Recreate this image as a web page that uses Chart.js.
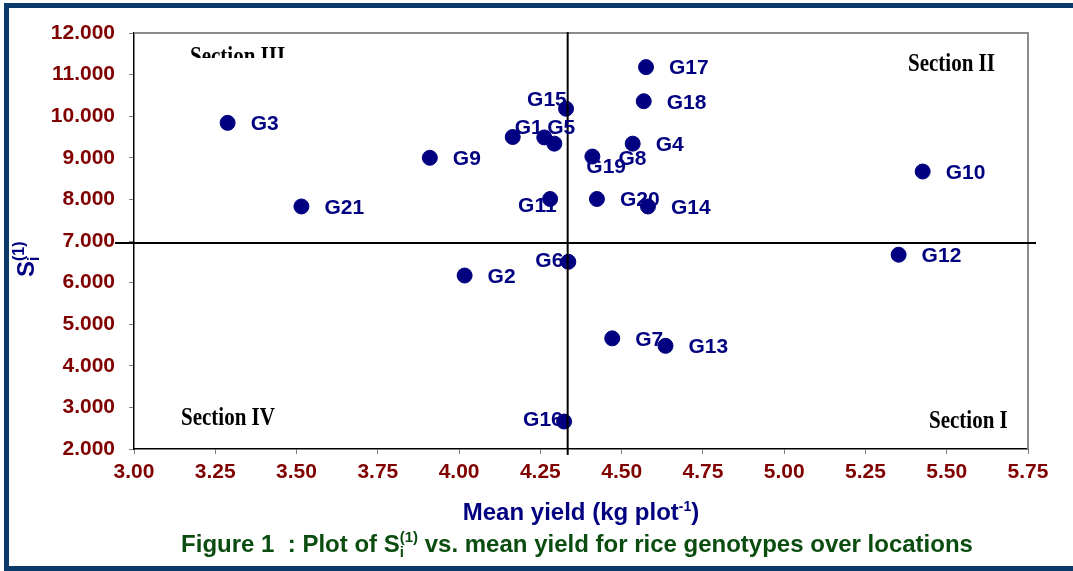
<!DOCTYPE html>
<html>
<head>
<meta charset="utf-8">
<script src="https://cdn.jsdelivr.net/npm/chart.js@4/dist/chart.umd.min.js"></script>
<style>
  body { margin: 0; background: #fff; }
  #wrap { position: relative; width: 1073px; height: 571px; overflow: hidden; }
  #grafico { position: absolute; left: 0; top: 0; }
  #moldura {
    position: absolute; left: 4px; top: 3px; width: 1100px; height: 568px;
    box-sizing: border-box; border: 5px solid #0a3a6a; border-right: none;
    pointer-events: none;
  }
</style>
</head>
<body>
<div id="wrap">
  <canvas id="grafico" width="1073" height="571"></canvas>
  <div id="moldura"></div>
</div>
<script>
// genotypes and their values
const genotypes = ['G1', 'G2', 'G3', 'G4', 'G5', 'G6', 'G7', 'G8', 'G9', 'G10', 'G11',
                   'G12', 'G13', 'G14', 'G15', 'G16', 'G17', 'G18', 'G19', 'G20', 'G21'];
const meanYield = [4.165, 4.017, 3.288, 4.534, 4.262, 4.336, 4.471, 4.410, 3.910, 5.426, 4.280,
                   5.352, 4.635, 4.581, 4.329, 4.323, 4.575, 4.568, 4.293, 4.424, 3.515];
const si1 = [9.50, 6.17, 9.84, 9.34, 9.49, 6.50, 4.66, 9.03, 9.00, 8.67, 8.01,
             6.67, 4.48, 7.83, 10.18, 2.66, 11.18, 10.36, 9.34, 8.01, 7.83];

// overall means (the two dividing lines)
const grandMeanYield = 4.334;
const grandMeanSi = 6.95;

const sections = ['Section I', 'Section II', 'Section III', 'Section IV'];

// label nudges (px) for the crowded labels, everything else sits to the right
const deslocDefault = [23, 1.5];
const deslocRotulo = {
    G15: [-39, -9], G1: [2, -9], G5: [3, -9], G19: [32, 24],
    G11: [-32, 7], G6: [-33, -1], G16: [-41, -1], G8: [26, 3]
};

const AZUL = '#000080';
const VERMELHO = '#800000';
const VERDE = '#0a4d0f';
const sans = '"Liberation Sans", Arial, sans-serif';
const fonte = (px) => 'bold ' + px + 'px ' + sans;

// draw text with sub/superscripts, parts = {t, size, dy} or {sub, sup, size}
function textoRico(ctx, partes, x, y, align) {
    const larg = p => {
        ctx.font = fonte(p.size);
        if (p.sub !== undefined) {
            return Math.max(ctx.measureText(p.sub).width, ctx.measureText(p.sup).width);
        }
        return ctx.measureText(p.t).width;
    };
    const total = partes.reduce((s, p) => s + larg(p), 0);
    let cx = align === 'center' ? x - total / 2 : x;
    ctx.textAlign = 'left';
    ctx.textBaseline = 'alphabetic';
    partes.forEach(p => {
        const w = larg(p);
        ctx.font = fonte(p.size);
        if (p.sub !== undefined) {
            ctx.fillText(p.sub, cx, y + p.subDy);
            ctx.fillText(p.sup, cx, y + p.supDy);
        } else {
            ctx.fillText(p.t, cx, y + (p.dy || 0));
        }
        cx += w;
    });
}

const pluginQuadrantes = {
    id: 'quadrantes',
    afterDatasetsDraw(chart) {
        const { ctx, chartArea: a, scales: { x, y } } = chart;
        ctx.save();

        // top and right edge of the plot area
        ctx.strokeStyle = '#8c8c8c';
        ctx.lineWidth = 2;
        ctx.beginPath();
        ctx.moveTo(a.left, a.top);
        ctx.lineTo(a.right, a.top);
        ctx.lineTo(a.right, a.bottom);
        ctx.stroke();

        // dividing lines at the means
        ctx.strokeStyle = '#000';
        ctx.lineWidth = 2;
        const yy = y.getPixelForValue(grandMeanSi);
        ctx.beginPath();
        ctx.moveTo(a.left - 19, yy);
        ctx.lineTo(a.right + 8, yy);
        ctx.stroke();
        const xx = x.getPixelForValue(grandMeanYield);
        ctx.beginPath();
        ctx.moveTo(xx, a.top - 1);
        ctx.lineTo(xx, a.bottom + 6);
        ctx.stroke();

        // genotype labels
        const meta = chart.getDatasetMeta(0);
        ctx.fillStyle = AZUL;
        ctx.font = fonte(21);
        ctx.textAlign = 'left';
        ctx.textBaseline = 'middle';
        meta.data.forEach((pt, i) => {
            const d = deslocRotulo[genotypes[i]] || deslocDefault;
            ctx.fillText(genotypes[i], pt.x + d[0], pt.y + d[1]);
        });

        // section names
        ctx.fillStyle = '#000';
        ctx.font = 'bold 25px "Liberation Serif", "Times New Roman", serif';
        ctx.textAlign = 'left';
        ctx.textBaseline = 'alphabetic';
        const escreve = (txt, px, py) => {
            ctx.save();
            ctx.translate(px, py);
            ctx.scale(0.84, 1);
            ctx.fillText(txt, 0, 0);
            ctx.restore();
        };
        escreve(sections[1], 908, 71);
        escreve(sections[3], 181, 425);
        escreve(sections[0], 929, 428);
        ctx.save();
        ctx.beginPath();
        ctx.rect(0, 0, chart.width, 58);
        ctx.clip();
        escreve(sections[2], 190, 64);
        ctx.restore();

        // axis titles
        ctx.fillStyle = AZUL;
        textoRico(ctx, [
            { t: 'Mean yield (kg plot', size: 24 },
            { t: '-1', size: 14, dy: -9 },
            { t: ')', size: 24 }
        ], (a.left + a.right) / 2, 520, 'center');

        ctx.save();
        ctx.translate(34, 277);
        ctx.rotate(-Math.PI / 2);
        textoRico(ctx, [
            { t: 'S', size: 24 },
            { sub: 'i', sup: '(1)', size: 16, subDy: 5, supDy: -10 }
        ], 0, 0, 'left');
        ctx.restore();

        // caption
        ctx.fillStyle = VERDE;
        textoRico(ctx, [
            { t: 'Figure 1  : Plot of S', size: 24 },
            { sub: 'i', sup: '(1)', size: 15, subDy: 5, supDy: -10 },
            { t: ' vs. mean yield for rice genotypes over locations', size: 24 }
        ], 577, 552, 'center');

        ctx.restore();
    }
};

const pontos = genotypes.map((g, i) => ({ x: meanYield[i], y: si1[i] }));

new Chart(document.getElementById('grafico'), {
    type: 'scatter',
    data: {
        datasets: [{
            label: 'Genotypes',
            data: pontos,
            backgroundColor: AZUL,
            borderColor: AZUL,
            pointRadius: 7.5,
            pointHoverRadius: 7.5
        }]
    },
    options: {
        responsive: false,
        animation: false,
        layout: { padding: { top: 33, right: 45, left: 0, bottom: 0 } },
        plugins: { legend: { display: false }, tooltip: { enabled: false } },
        scales: {
            x: {
                type: 'linear',
                min: 3,
                max: 5.75,
                afterFit: (s) => { s.height = 122; },
                ticks: {
                    stepSize: 0.25,
                    callback: (v) => v.toFixed(2),
                    color: VERMELHO,
                    font: { family: sans, size: 21, weight: 'bold' },
                    padding: 6,
                    maxRotation: 0
                },
                grid: { drawOnChartArea: false, tickLength: 5, color: '#808080' },
                border: { color: '#000', width: 1.5 }
            },
            y: {
                type: 'linear',
                min: 2,
                max: 12,
                afterFit: (s) => { s.width = 134; },
                ticks: {
                    stepSize: 1,
                    callback: (v) => v.toFixed(3),
                    color: VERMELHO,
                    font: { family: sans, size: 21, weight: 'bold' },
                    padding: 14
                },
                grid: { drawOnChartArea: false, tickLength: 5, color: '#808080' },
                border: { color: '#000', width: 1.5 }
            }
        }
    },
    plugins: [pluginQuadrantes]
});
</script>
</body>
</html>
